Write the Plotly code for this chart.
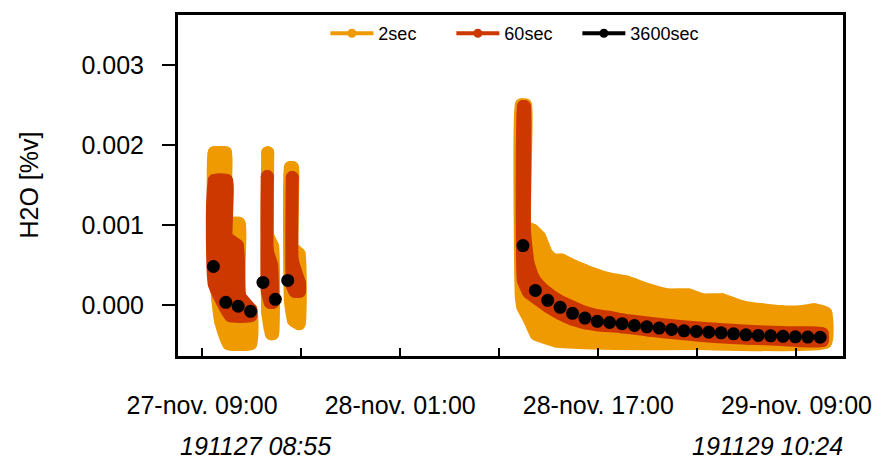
import pandas as pd
import plotly.graph_objects as go

START = pd.Timestamp("2019-11-27 00:00")

# Times are minutes after 27-nov 00:00 (clock shown on the axis), H2O in %v.
# 2-second record: upper and lower envelope of the point cloud, per block.
s2_b1_hi_t = [599, 626, 654, 654, 719, 719, 776]
s2_b1_hi_v = [0.001905, 0.001905, 0.001905, 0.001024, 0.001024, -0.000050, -0.000050]
s2_b1_lo_t = [599, 615, 630, 668, 776]
s2_b1_lo_v = [0.000683, 0.000099, -0.000199, -0.000478, -0.000478]

s2_b2_hi_t = [858, 858, 882]
s2_b2_hi_v = [0.001905, 0.000869, 0.000732]
s2_b2_lo_t = [858, 875, 882]
s2_b2_lo_v = [-0.000087, -0.000354, -0.000354]

s2_b3_hi_t = [968, 978, 978, 1010]
s2_b3_hi_v = [0.001719, 0.001719, 0.000720, 0.000639]
s2_b3_lo_t = [968, 983, 1010]
s2_b3_lo_v = [0.000062, -0.000186, -0.000230]

s2_b4_hi_t = [2087, 2107, 2107, 2143, 2176, 2210, 2243, 2282, 2320, 2387, 2435, 2512,
              2594, 2704, 2800, 2897, 2964, 3060, 3156, 3252, 3348, 3444, 3506, 3562]
s2_b4_hi_v = [0.002501, 0.002501, 0.000981, 0.000937, 0.000850, 0.000639, 0.000565, 0.000565,
              0.000515, 0.000441, 0.000391, 0.000329, 0.000292, 0.000192, 0.000130, 0.000130,
              0.000068, 0.000068, -0.000019, -0.000056, -0.000081, -0.000081, -0.000056, -0.000099]
s2_b4_lo_t = [2087, 2095, 2128, 2159, 2258, 2546, 2930, 3562]
s2_b4_lo_v = [0.000112, -0.000025, -0.000186, -0.000360, -0.000447, -0.000478, -0.000478, -0.000459]

# 60-second means: upper and lower envelope, per block.
s60_b1_hi_t = [599, 659, 659, 711, 723, 776]
s60_b1_hi_v = [0.001558, 0.001558, 0.000844, 0.000745, 0.000112, -0.000056]
s60_b1_lo_t = [599, 678, 776]
s60_b1_lo_v = [0.000267, -0.000130, -0.000130]

s60_b2_hi_t = [856, 856, 877, 882]
s60_b2_hi_v = [0.001607, 0.000683, 0.000496, 0.000112]
s60_b2_lo_t = [856, 870, 882]
s60_b2_lo_v = [0.000186, 0.000037, 0.000037]

s60_b3_hi_t = [977, 977, 1012]
s60_b3_hi_v = [0.001595, 0.000559, 0.000273]
s60_b3_lo_t = [977, 990, 1012]
s60_b3_lo_v = [0.000248, 0.000174, 0.000174]

s60_b4_hi_t = [2097, 2102, 2102, 2119, 2143, 2176, 2215, 2272, 2335, 2392, 2455, 2512,
               2570, 2704, 2868, 3026, 3185, 3348, 3545]
s60_b4_hi_v = [0.002482, 0.002482, 0.000931, 0.000534, 0.000348, 0.000236, 0.000149, 0.000050,
               -0.000025, -0.000087, -0.000130, -0.000149, -0.000180, -0.000223, -0.000267,
               -0.000298, -0.000323, -0.000341, -0.000354]
s60_b4_lo_t = [2097, 2123, 2162, 2215, 2272, 2335, 2392, 2455, 2570, 2704, 2868, 3026,
               3185, 3348, 3545]
s60_b4_lo_v = [0.000310, 0.000161, 0.000087, -0.000012, -0.000099, -0.000174, -0.000217,
               -0.000242, -0.000267, -0.000310, -0.000354, -0.000391, -0.000410, -0.000428,
               -0.000441]

# 3600-second means (hourly, at hh:55).
s3600_t = [595, 655, 715, 775, 835, 895, 955] + list(range(2095, 3536, 60))
s3600_v = [0.000484, 0.000037, -0.000012, -0.000075, 0.000286, 0.000075, 0.000311,
           0.000745, 0.000186, 0.000062, -0.000025, -0.000100, -0.000160, -0.000200,
           -0.000215, -0.000230, -0.000252, -0.000269, -0.000285, -0.000302, -0.000319,
           -0.000326, -0.000335, -0.000344, -0.000356, -0.000369, -0.000376, -0.000381,
           -0.000388, -0.000393, -0.000397, -0.000399]

tick_times = ["2019-11-27 09:00", "2019-11-27 17:00", "2019-11-28 01:00", "2019-11-28 09:00",
              "2019-11-28 17:00", "2019-11-29 01:00", "2019-11-29 09:00"]
tick_text = ["27-nov. 09:00", "", "28-nov. 01:00", "", "28-nov. 17:00", "", "29-nov. 09:00"]
y_ticks = [0.0, 0.001, 0.002, 0.003]
series_names = ["2sec", "60sec", "3600sec"]

ORANGE = "#EE9A00"
RED = "#CD3700"
BLACK = "#000000"
FONT = "Liberation Sans, Arial, sans-serif"
MARK = 13


def when(minutes):
    return [START + pd.Timedelta(minutes=m) for m in minutes]


def band(hi_t, hi_v, lo_t, lo_v):
    t = list(hi_t) + list(lo_t)[::-1] + [hi_t[0]]
    v = list(hi_v) + list(lo_v)[::-1] + [hi_v[0]]
    return when(t), v


fig = go.Figure()

orange_blocks = [
    (s2_b1_hi_t, s2_b1_hi_v, s2_b1_lo_t, s2_b1_lo_v),
    (s2_b2_hi_t, s2_b2_hi_v, s2_b2_lo_t, s2_b2_lo_v),
    (s2_b3_hi_t, s2_b3_hi_v, s2_b3_lo_t, s2_b3_lo_v),
    (s2_b4_hi_t, s2_b4_hi_v, s2_b4_lo_t, s2_b4_lo_v),
]
red_blocks = [
    (s60_b1_hi_t, s60_b1_hi_v, s60_b1_lo_t, s60_b1_lo_v),
    (s60_b2_hi_t, s60_b2_hi_v, s60_b2_lo_t, s60_b2_lo_v),
    (s60_b3_hi_t, s60_b3_hi_v, s60_b3_lo_t, s60_b3_lo_v),
    (s60_b4_hi_t, s60_b4_hi_v, s60_b4_lo_t, s60_b4_lo_v),
]

# each block: filled envelope, outlined with a stroke as wide as one point;
# a light spline keeps the corners round like the point markers
for color, blocks in ((ORANGE, orange_blocks), (RED, red_blocks)):
    for blk in blocks:
        x, y = band(*blk)
        fig.add_trace(go.Scatter(
            x=x, y=y, mode="lines+markers", fill="toself", fillcolor=color,
            line=dict(color=color, width=MARK, shape="spline", smoothing=0.35),
            marker=dict(color=color, size=MARK),
            showlegend=False, hoverinfo="skip"))

fig.add_trace(go.Scatter(
    x=when(s3600_t), y=s3600_v, mode="markers",
    marker=dict(color=BLACK, size=MARK), showlegend=False, hoverinfo="skip"))

# legend keys
for name, color in zip(series_names, (ORANGE, RED, BLACK)):
    fig.add_trace(go.Scatter(
        x=[None], y=[None], mode="lines+markers", name=name,
        line=dict(color=color, width=4), marker=dict(color=color, size=9)))

fig.update_layout(
    width=884, height=466,
    margin=dict(l=178, r=35, t=13, b=110),
    paper_bgcolor="white", plot_bgcolor="white",
    font=dict(family=FONT, size=25, color="black"),
    showlegend=True,
    legend=dict(orientation="h", x=0.2216, xanchor="left", y=1.0, yanchor="top",
                font=dict(size=18), bgcolor="rgba(0,0,0,0)", itemwidth=43,
                entrywidth=68, entrywidthmode="pixels", traceorder="normal"),
    xaxis=dict(
        type="date",
        range=[START + pd.Timedelta(minutes=423.3), START + pd.Timedelta(minutes=3645.6)],
        tickmode="array", tickvals=tick_times, ticktext=tick_text,
        ticks="inside", ticklen=8, tickwidth=2, tickcolor="black",
        showline=True, linewidth=3, linecolor="black", mirror=True,
        showgrid=False, zeroline=False, ticklabelstandoff=25,
        tickfont=dict(size=25)),
    yaxis=dict(
        range=[-0.000633, 0.003624],
        tickmode="array", tickvals=y_ticks, tickformat=".3f",
        ticks="outside", ticklen=13, tickwidth=2, tickcolor="black",
        showline=True, linewidth=3, linecolor="black", mirror=True,
        showgrid=False, zeroline=False, ticklabelstandoff=13,
        tickfont=dict(size=25)),
    annotations=[
        dict(text="H2O [%v]", xref="paper", yref="paper", x=-0.2255, y=0.5,
             xanchor="center", yanchor="middle", textangle=-90, showarrow=False,
             font=dict(size=25)),
        dict(text="<i>191127 08:55</i>", xref="paper", yref="paper", x=0.117, y=-0.2653,
             xanchor="center", yanchor="middle", showarrow=False, font=dict(size=25)),
        dict(text="<i>191129 10:24</i>", xref="paper", yref="paper", x=0.886, y=-0.2653,
             xanchor="center", yanchor="middle", showarrow=False, font=dict(size=25)),
    ],
)

fig.write_html("out.html")
